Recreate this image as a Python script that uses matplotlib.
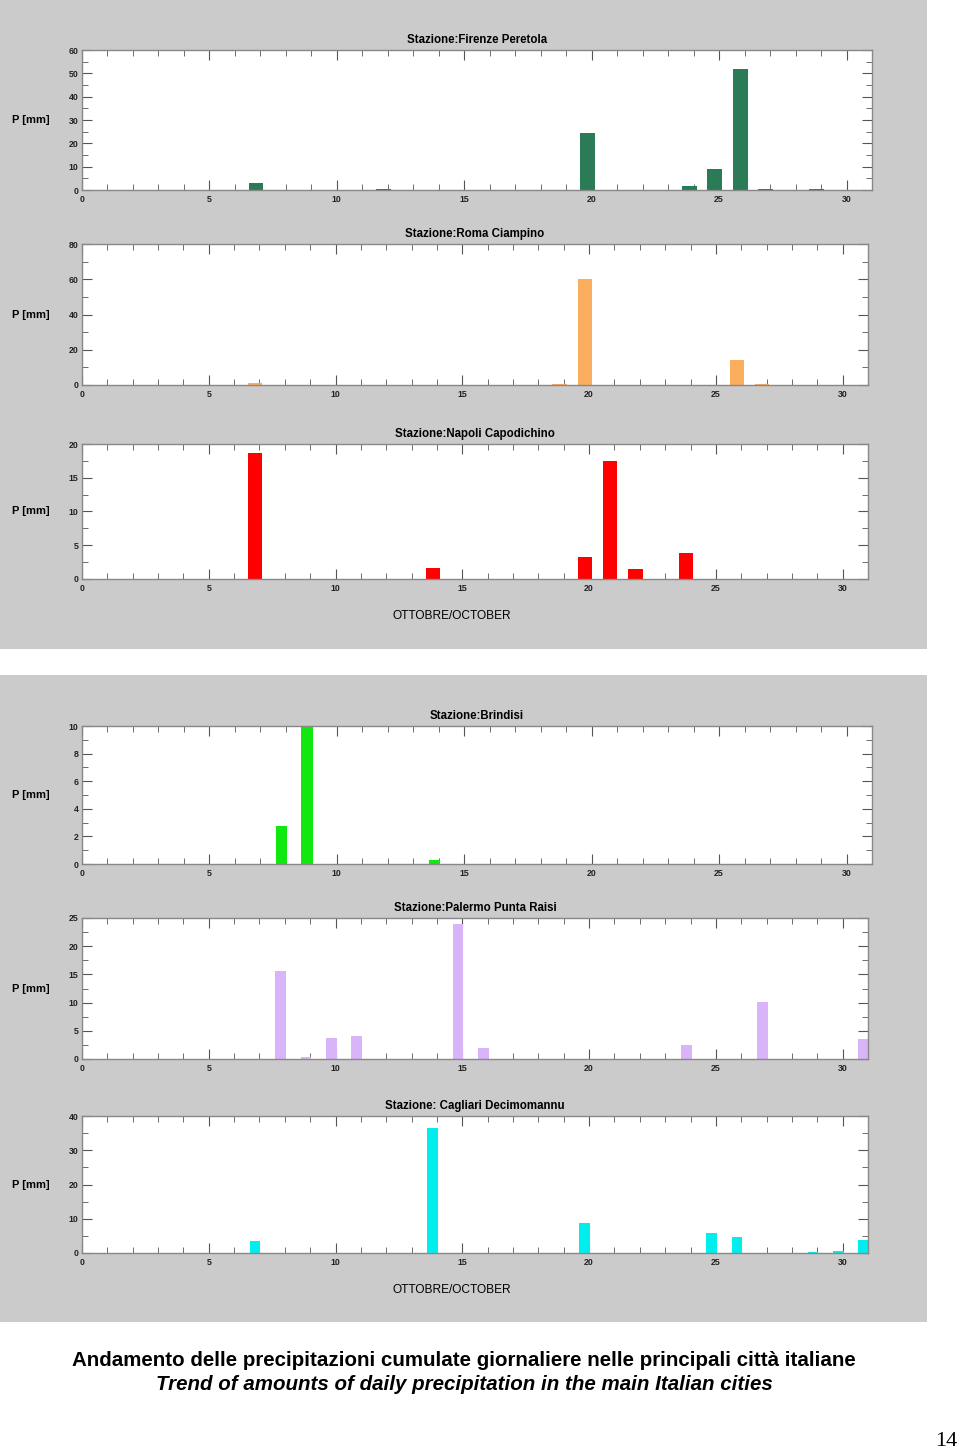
import numpy as np
import matplotlib.pyplot as plt
from matplotlib.patches import Rectangle
from matplotlib.ticker import MultipleLocator

plt.rcParams['font.family'] = ['Liberation Sans', 'DejaVu Sans']

# daily precipitation, October (day -> mm)
firenze_days = [7, 12, 20, 24, 25, 26, 27, 29]
firenze_mm = [3.0, 0.4, 24.3, 1.7, 9.0, 52.0, 0.4, 0.3]

roma_days = [7, 19, 20, 26, 27]
roma_mm = [1.0, 0.8, 60.3, 14.2, 0.3]

napoli_days = [7, 14, 20, 21, 22, 24]
napoli_mm = [18.7, 1.7, 3.2, 17.5, 1.5, 3.8]

brindisi_days = [8, 9, 14]
brindisi_mm = [2.75, 9.9, 0.3]

palermo_days = [8, 9, 10, 11, 15, 16, 24, 27, 31]
palermo_mm = [15.6, 0.4, 3.7, 4.0, 23.9, 2.0, 2.5, 10.1, 3.6]

cagliari_days = [7, 14, 20, 25, 26, 29, 30, 31]
cagliari_mm = [3.4, 36.6, 8.8, 5.9, 4.7, 0.3, 0.5, 3.7]

W, H = 960, 1452
fig = plt.figure(figsize=(W / 100, H / 100), dpi=100)
fig.patch.set_facecolor('white')

def px_box(x0, y0, x1, y1):
    return [x0 / W, 1 - y1 / H, (x1 - x0) / W, (y1 - y0) / H]

# gray panels behind the charts
for (x0, y0, x1, y1) in [(0, 0, 927, 649), (0, 675, 927, 1322)]:
    b = px_box(x0, y0, x1, y1)
    fig.patches.append(Rectangle((b[0], b[1]), b[2], b[3], transform=fig.transFigure,
                                 facecolor='#cbcbcb', edgecolor='none', zorder=-10))

panels = [
    ('Stazione:Firenze Peretola', firenze_days, firenze_mm, '#2b7b56', 60, 10, 5, 0.58, (82, 50, 872, 190)),
    ('Stazione:Roma Ciampino', roma_days, roma_mm, '#fbae5e', 80, 20, 10, 0.57, (82, 244, 868, 385)),
    ('Stazione:Napoli Capodichino', napoli_days, napoli_mm, '#ff0000', 20, 5, 2.5, 0.56, (82, 444, 868, 579)),
    ('Stazione:Brindisi', brindisi_days, brindisi_mm, '#10e810', 10, 2, 1, 0.45, (82, 726, 872, 864)),
    ('Stazione:Palermo Punta Raisi', palermo_days, palermo_mm, '#d8b4f8', 25, 5, 2.5, 0.42, (82, 918, 868, 1059)),
    ('Stazione: Cagliari Decimomannu', cagliari_days, cagliari_mm, '#00eeee', 40, 10, 5, 0.42, (82, 1116, 868, 1253)),
]

for i, (title, days, mm, color, ymax, ymaj, ymin, bw, box) in enumerate(panels):
    ax = fig.add_axes(px_box(*box))
    ax.set_facecolor('white')
    ax.bar(np.array(days) - 0.17, mm, width=bw, color=color, zorder=2)
    ax.set_xlim(0, 31)
    ax.set_ylim(0, ymax)
    ax.xaxis.set_major_locator(MultipleLocator(5))
    ax.xaxis.set_minor_locator(MultipleLocator(1))
    ax.yaxis.set_major_locator(MultipleLocator(ymaj))
    ax.yaxis.set_minor_locator(MultipleLocator(ymin))
    ax.tick_params(which='both', direction='in', top=True, right=True,
                   colors='#555555', labelcolor='#222222', labelsize=6.3)
    ax.tick_params(axis='x', pad=3.5)
    ax.tick_params(axis='y', pad=2.5)
    ax.tick_params(which='major', length=7, width=0.8)
    ax.tick_params(which='minor', length=4, width=0.6)
    for lab in ax.get_xticklabels() + ax.get_yticklabels():
        lab.set_fontweight('bold')
    for s in ax.spines.values():
        s.set_color('#888888')
        s.set_linewidth(1.0)
    ax.set_title(title, fontsize=8.3, fontweight='bold', pad=5)
    yc = 1 - (box[1] + box[3]) / 2 / H
    fig.text(31 / W, yc, 'P [mm]', fontsize=8, fontweight='bold', ha='center', va='center')

fig.text(452 / W, 1 - 616 / H, 'OTTOBRE/OCTOBER', fontsize=8.6, ha='center', va='center')
fig.text(452 / W, 1 - 1290 / H, 'OTTOBRE/OCTOBER', fontsize=8.6, ha='center', va='center')

fig.text(464 / W, 1 - 1360 / H,
         'Andamento delle precipitazioni cumulate giornaliere nelle principali città italiane',
         fontsize=14.8, fontweight='bold', ha='center', va='center')
fig.text(464 / W, 1 - 1385 / H,
         'Trend of amounts of daily precipitation in the main Italian cities',
         fontsize=14.8, fontweight='bold', fontstyle='italic', ha='center', va='center')
fig.text(946 / W, 1 - 1441 / H, '14', fontsize=16, family='Liberation Serif', ha='center', va='center')

fig.savefig('out.png', dpi=100)
